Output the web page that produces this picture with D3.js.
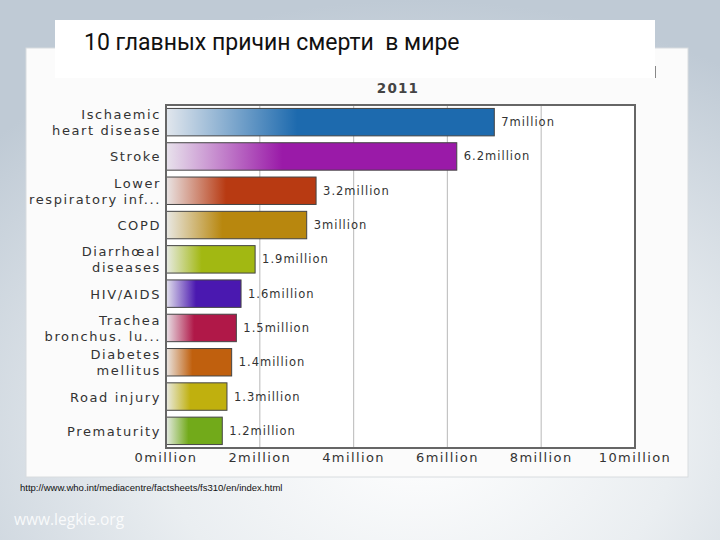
<!DOCTYPE html>
<html>
<head>
<meta charset="utf-8">
<script src="https://cdn.jsdelivr.net/npm/d3@7"></script>
<style>
  html, body { margin: 0; padding: 0; }
  svg { display: block; }
</style>
</head>
<body>
<svg id="slide" width="720" height="540"></svg>
<script>
// Data (deaths, millions, 2011)
const causes = [
  ["Ischaemic", "heart disease"],
  ["Stroke"],
  ["Lower", "respiratory inf..."],
  ["COPD"],
  ["Diarrhœal", "diseases"],
  ["HIV/AIDS"],
  ["Trachea", "bronchus. lu..."],
  ["Diabetes", "mellitus"],
  ["Road injury"],
  ["Prematurity"]
];
const deaths = [7, 6.2, 3.2, 3, 1.9, 1.6, 1.5, 1.4, 1.3, 1.2];
const valueLabels = ["7million", "6.2million", "3.2million", "3million", "1.9million",
  "1.6million", "1.5million", "1.4million", "1.3million", "1.2million"];
const barColors = ["#1d6aae", "#9a1aa8", "#b83a12", "#b8870e", "#a2b812",
  "#4a18b0", "#b01848", "#c0600e", "#c0b00e", "#72aa1a"];
const xTicks = [0, 2, 4, 6, 8, 10];

const svg = d3.select("#slide");
const defs = svg.append("defs");

// Slide background
const bg = defs.append("radialGradient").attr("id", "bg")
  .attr("cx", "58%").attr("cy", "80%").attr("r", "80%");
bg.append("stop").attr("offset", "0%").attr("stop-color", "#ffffff");
bg.append("stop").attr("offset", "45%").attr("stop-color", "#eaeef1");
bg.append("stop").attr("offset", "100%").attr("stop-color", "#bfcad5");
svg.append("rect").attr("width", 720).attr("height", 540).attr("fill", "url(#bg)");

// Chart panel
svg.append("rect")
  .attr("x", 26).attr("y", 48).attr("width", 662).attr("height", 429)
  .attr("fill", "#fbfbfb").attr("stroke", "#d8dcdf").attr("stroke-width", 1);

const plot = { left: 166, right: 635, top: 105, bottom: 448 };

const x = d3.scaleLinear().domain([0, 10]).range([plot.left, plot.right]);
const y = d3.scaleBand().domain(d3.range(causes.length))
  .range([plot.top, plot.bottom]).paddingInner(0.2).paddingOuter(0.1);

const g = svg.append("g");

// plot background + gridlines
g.append("rect")
  .attr("x", plot.left).attr("y", plot.top)
  .attr("width", plot.right - plot.left).attr("height", plot.bottom - plot.top)
  .attr("fill", "#ffffff");

g.selectAll("line.grid")
  .data(xTicks.slice(1, -1))
  .join("line")
  .attr("class", "grid")
  .attr("x1", d => x(d)).attr("x2", d => x(d))
  .attr("y1", plot.top).attr("y2", plot.bottom)
  .attr("stroke", "#c4c4c4").attr("stroke-width", 1.2);

// gradients for bars
barColors.forEach((c, i) => {
  const lg = defs.append("linearGradient").attr("id", "bar" + i)
    .attr("x1", "0%").attr("x2", "100%").attr("y1", "0%").attr("y2", "0%");
  lg.append("stop").attr("offset", "0%").attr("stop-color", d3.interpolateRgb("#eceef0", c)(0.05));
  lg.append("stop").attr("offset", "40%").attr("stop-color", c);
  lg.append("stop").attr("offset", "100%").attr("stop-color", c);
});

g.selectAll("rect.bar")
  .data(deaths)
  .join("rect")
  .attr("class", "bar")
  .attr("x", x(0))
  .attr("y", (d, i) => y(i))
  .attr("width", d => x(d) - x(0))
  .attr("height", y.bandwidth())
  .attr("fill", (d, i) => `url(#bar${i})`)
  .attr("stroke", "#444").attr("stroke-width", 1);

// value labels
g.selectAll("text.val")
  .data(deaths)
  .join("text")
  .attr("class", "val")
  .attr("x", d => x(d) + 7)
  .attr("y", (d, i) => y(i) + y.bandwidth() / 2 + 4)
  .attr("font-family", "DejaVu Sans, sans-serif")
  .attr("font-size", 11.5)
  .attr("letter-spacing", 1)
  .attr("fill", "#333")
  .text((d, i) => valueLabels[i]);

// plot border
g.append("rect")
  .attr("x", plot.left).attr("y", plot.top)
  .attr("width", plot.right - plot.left).attr("height", plot.bottom - plot.top)
  .attr("fill", "none").attr("stroke", "#666").attr("stroke-width", 2);

// category labels
const cat = g.selectAll("text.cat")
  .data(causes)
  .join("text")
  .attr("class", "cat")
  .attr("text-anchor", "end")
  .attr("font-family", "DejaVu Sans, sans-serif")
  .attr("font-size", 13)
  .attr("letter-spacing", 1.6)
  .attr("fill", "#333");
cat.each(function(lines, i) {
  const cy = y(i) + y.bandwidth() / 2;
  const t0 = cy + 5 - (lines.length - 1) * 8;
  d3.select(this).selectAll("tspan")
    .data(lines)
    .join("tspan")
    .attr("x", plot.left - 5)
    .attr("y", (d, k) => t0 + k * 16)
    .text(d => d);
});

// x axis labels
g.selectAll("text.tick")
  .data(xTicks)
  .join("text")
  .attr("class", "tick")
  .attr("x", d => x(d))
  .attr("y", plot.bottom + 14)
  .attr("text-anchor", "middle")
  .attr("font-family", "DejaVu Sans, sans-serif")
  .attr("font-size", 13)
  .attr("letter-spacing", 1.4)
  .attr("fill", "#333")
  .text(d => d + "million");

// chart subtitle
svg.append("text")
  .attr("x", 398).attr("y", 93)
  .attr("text-anchor", "middle")
  .attr("font-family", "DejaVu Sans, sans-serif")
  .attr("font-weight", "bold")
  .attr("font-size", 13.5)
  .attr("letter-spacing", 1.2)
  .attr("fill", "#444")
  .text("2011");

// title box over the chart
svg.append("rect")
  .attr("x", 55).attr("y", 20).attr("width", 600).attr("height", 58)
  .attr("fill", "#ffffff");
svg.append("line")
  .attr("x1", 655.5).attr("x2", 655.5).attr("y1", 66).attr("y2", 78)
  .attr("stroke", "#888");
svg.append("text")
  .attr("x", 84).attr("y", 50)
  .attr("font-family", "Liberation Sans Narrow, Roboto, Liberation Sans, sans-serif")
  .attr("font-size", 23)
  .attr("fill", "#111")
  .style("white-space", "pre")
  .text("10 главных причин смерти  в мире");

// source
svg.append("text")
  .attr("x", 20).attr("y", 491)
  .attr("font-family", "Liberation Sans Narrow, Liberation Sans, sans-serif")
  .attr("font-size", 9.5)
  .attr("fill", "#111")
  .text("http://www.who.int/mediacentre/factsheets/fs310/en/index.html");

svg.append("text")
  .attr("x", 14).attr("y", 525)
  .attr("font-family", "Open Sans, sans-serif")
  .attr("font-size", 15.5)
  .attr("fill", "#ffffff")
  .attr("fill-opacity", 0.85)
  .text("www.legkie.org");
</script>
</body>
</html>
